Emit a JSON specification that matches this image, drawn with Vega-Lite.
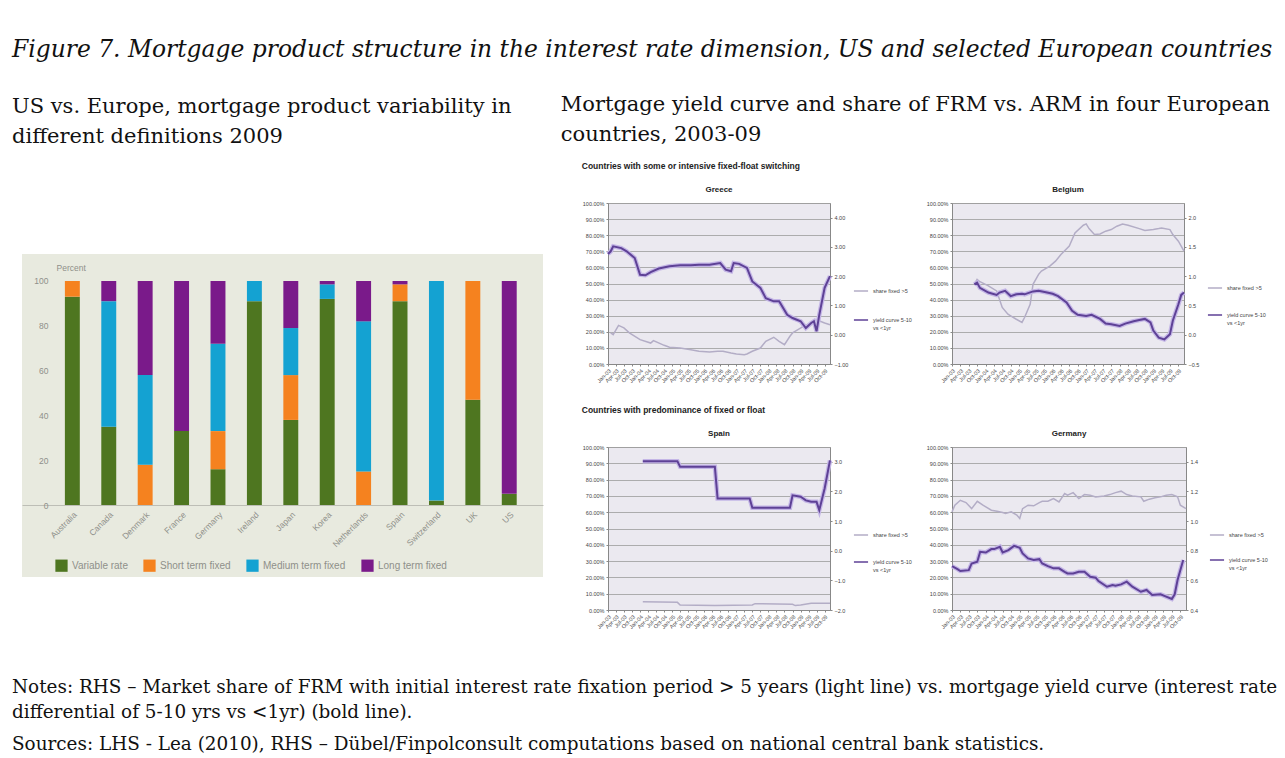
{
  "$schema": "https://vega.github.io/schema/vega-lite/v6.json",
  "background": "white",
  "padding": {"left": 12, "top": 37, "right": 0, "bottom": 0},
  "datasets": {
    "bars": [
      {"country": "Australia", "type": "Variable rate", "value": 93},
      {"country": "Australia", "type": "Short term fixed", "value": 7},
      {"country": "Canada", "type": "Variable rate", "value": 35},
      {"country": "Canada", "type": "Medium term fixed", "value": 56},
      {"country": "Canada", "type": "Long term fixed", "value": 9},
      {"country": "Denmark", "type": "Short term fixed", "value": 18},
      {"country": "Denmark", "type": "Medium term fixed", "value": 40},
      {"country": "Denmark", "type": "Long term fixed", "value": 42},
      {"country": "France", "type": "Variable rate", "value": 33},
      {"country": "France", "type": "Long term fixed", "value": 67},
      {"country": "Germany", "type": "Variable rate", "value": 16},
      {"country": "Germany", "type": "Short term fixed", "value": 17},
      {"country": "Germany", "type": "Medium term fixed", "value": 39},
      {"country": "Germany", "type": "Long term fixed", "value": 28},
      {"country": "Ireland", "type": "Variable rate", "value": 91},
      {"country": "Ireland", "type": "Medium term fixed", "value": 9},
      {"country": "Japan", "type": "Variable rate", "value": 38},
      {"country": "Japan", "type": "Short term fixed", "value": 20},
      {"country": "Japan", "type": "Medium term fixed", "value": 21},
      {"country": "Japan", "type": "Long term fixed", "value": 21},
      {"country": "Korea", "type": "Variable rate", "value": 92},
      {"country": "Korea", "type": "Medium term fixed", "value": 6.5},
      {"country": "Korea", "type": "Long term fixed", "value": 1.5},
      {"country": "Netherlands", "type": "Short term fixed", "value": 15},
      {"country": "Netherlands", "type": "Medium term fixed", "value": 67},
      {"country": "Netherlands", "type": "Long term fixed", "value": 18},
      {"country": "Spain", "type": "Variable rate", "value": 91},
      {"country": "Spain", "type": "Short term fixed", "value": 7.5},
      {"country": "Spain", "type": "Long term fixed", "value": 1.5},
      {"country": "Switzerland", "type": "Variable rate", "value": 2},
      {"country": "Switzerland", "type": "Medium term fixed", "value": 98},
      {"country": "UK", "type": "Variable rate", "value": 47},
      {"country": "UK", "type": "Short term fixed", "value": 53},
      {"country": "US", "type": "Variable rate", "value": 5},
      {"country": "US", "type": "Long term fixed", "value": 95}
    ],
    "lines": [
      {"c": "Greece", "s": "share", "d": "2003-02", "v": 19.3},
      {"c": "Greece", "s": "share", "d": "2003-03", "v": 18.2},
      {"c": "Greece", "s": "share", "d": "2003-05", "v": 24.0},
      {"c": "Greece", "s": "share", "d": "2003-07", "v": 22.4},
      {"c": "Greece", "s": "share", "d": "2003-09", "v": 19.3},
      {"c": "Greece", "s": "share", "d": "2004-01", "v": 15.1},
      {"c": "Greece", "s": "share", "d": "2004-05", "v": 13.0},
      {"c": "Greece", "s": "share", "d": "2004-06", "v": 14.5},
      {"c": "Greece", "s": "share", "d": "2004-10", "v": 11.6},
      {"c": "Greece", "s": "share", "d": "2004-12", "v": 10.4},
      {"c": "Greece", "s": "share", "d": "2005-04", "v": 9.9},
      {"c": "Greece", "s": "share", "d": "2005-08", "v": 8.9},
      {"c": "Greece", "s": "share", "d": "2005-11", "v": 7.9},
      {"c": "Greece", "s": "share", "d": "2006-03", "v": 7.5},
      {"c": "Greece", "s": "share", "d": "2006-06", "v": 7.9},
      {"c": "Greece", "s": "share", "d": "2006-08", "v": 7.9},
      {"c": "Greece", "s": "share", "d": "2006-11", "v": 6.8},
      {"c": "Greece", "s": "share", "d": "2007-01", "v": 6.2},
      {"c": "Greece", "s": "share", "d": "2007-04", "v": 5.8},
      {"c": "Greece", "s": "share", "d": "2007-05", "v": 6.2},
      {"c": "Greece", "s": "share", "d": "2007-07", "v": 7.9},
      {"c": "Greece", "s": "share", "d": "2007-10", "v": 9.9},
      {"c": "Greece", "s": "share", "d": "2007-12", "v": 14.1},
      {"c": "Greece", "s": "share", "d": "2008-03", "v": 16.6},
      {"c": "Greece", "s": "share", "d": "2008-05", "v": 14.1},
      {"c": "Greece", "s": "share", "d": "2008-07", "v": 12.0},
      {"c": "Greece", "s": "share", "d": "2008-09", "v": 17.2},
      {"c": "Greece", "s": "share", "d": "2008-10", "v": 19.3},
      {"c": "Greece", "s": "share", "d": "2008-12", "v": 21.3},
      {"c": "Greece", "s": "share", "d": "2009-02", "v": 23.4},
      {"c": "Greece", "s": "share", "d": "2009-05", "v": 25.5},
      {"c": "Greece", "s": "share", "d": "2009-07", "v": 27.5},
      {"c": "Greece", "s": "share", "d": "2009-10", "v": 25.5},
      {"c": "Greece", "s": "share", "d": "2009-12", "v": 24.4},
      {"c": "Greece", "s": "curve", "d": "2003-01", "v": 2.76},
      {"c": "Greece", "s": "curve", "d": "2003-02", "v": 2.85},
      {"c": "Greece", "s": "curve", "d": "2003-03", "v": 3.02},
      {"c": "Greece", "s": "curve", "d": "2003-06", "v": 2.96},
      {"c": "Greece", "s": "curve", "d": "2003-08", "v": 2.85},
      {"c": "Greece", "s": "curve", "d": "2003-11", "v": 2.62},
      {"c": "Greece", "s": "curve", "d": "2004-01", "v": 2.05},
      {"c": "Greece", "s": "curve", "d": "2004-03", "v": 2.03},
      {"c": "Greece", "s": "curve", "d": "2004-05", "v": 2.14},
      {"c": "Greece", "s": "curve", "d": "2004-08", "v": 2.26},
      {"c": "Greece", "s": "curve", "d": "2004-12", "v": 2.34},
      {"c": "Greece", "s": "curve", "d": "2005-04", "v": 2.37},
      {"c": "Greece", "s": "curve", "d": "2005-08", "v": 2.37},
      {"c": "Greece", "s": "curve", "d": "2005-11", "v": 2.39},
      {"c": "Greece", "s": "curve", "d": "2006-03", "v": 2.39},
      {"c": "Greece", "s": "curve", "d": "2006-07", "v": 2.45},
      {"c": "Greece", "s": "curve", "d": "2006-09", "v": 2.22},
      {"c": "Greece", "s": "curve", "d": "2006-11", "v": 2.17},
      {"c": "Greece", "s": "curve", "d": "2006-12", "v": 2.45},
      {"c": "Greece", "s": "curve", "d": "2007-02", "v": 2.42},
      {"c": "Greece", "s": "curve", "d": "2007-05", "v": 2.28},
      {"c": "Greece", "s": "curve", "d": "2007-07", "v": 1.82},
      {"c": "Greece", "s": "curve", "d": "2007-10", "v": 1.60},
      {"c": "Greece", "s": "curve", "d": "2007-12", "v": 1.25},
      {"c": "Greece", "s": "curve", "d": "2008-03", "v": 1.14},
      {"c": "Greece", "s": "curve", "d": "2008-05", "v": 1.14},
      {"c": "Greece", "s": "curve", "d": "2008-08", "v": 0.68},
      {"c": "Greece", "s": "curve", "d": "2008-10", "v": 0.57},
      {"c": "Greece", "s": "curve", "d": "2009-01", "v": 0.46},
      {"c": "Greece", "s": "curve", "d": "2009-03", "v": 0.23},
      {"c": "Greece", "s": "curve", "d": "2009-05", "v": 0.40},
      {"c": "Greece", "s": "curve", "d": "2009-06", "v": 0.46},
      {"c": "Greece", "s": "curve", "d": "2009-07", "v": 0.12},
      {"c": "Greece", "s": "curve", "d": "2009-08", "v": 0.68},
      {"c": "Greece", "s": "curve", "d": "2009-10", "v": 1.60},
      {"c": "Greece", "s": "curve", "d": "2009-12", "v": 2.00},
      {"c": "Belgium", "s": "share", "d": "2003-09", "v": 49.5},
      {"c": "Belgium", "s": "share", "d": "2003-10", "v": 52.6},
      {"c": "Belgium", "s": "share", "d": "2003-11", "v": 51.1},
      {"c": "Belgium", "s": "share", "d": "2004-02", "v": 48.5},
      {"c": "Belgium", "s": "share", "d": "2004-05", "v": 45.4},
      {"c": "Belgium", "s": "share", "d": "2004-07", "v": 35.1},
      {"c": "Belgium", "s": "share", "d": "2004-09", "v": 30.9},
      {"c": "Belgium", "s": "share", "d": "2004-10", "v": 29.9},
      {"c": "Belgium", "s": "share", "d": "2004-12", "v": 27.8},
      {"c": "Belgium", "s": "share", "d": "2005-02", "v": 25.8},
      {"c": "Belgium", "s": "share", "d": "2005-03", "v": 28.9},
      {"c": "Belgium", "s": "share", "d": "2005-05", "v": 37.1},
      {"c": "Belgium", "s": "share", "d": "2005-06", "v": 49.5},
      {"c": "Belgium", "s": "share", "d": "2005-08", "v": 55.7},
      {"c": "Belgium", "s": "share", "d": "2005-09", "v": 57.7},
      {"c": "Belgium", "s": "share", "d": "2005-12", "v": 60.8},
      {"c": "Belgium", "s": "share", "d": "2006-02", "v": 63.9},
      {"c": "Belgium", "s": "share", "d": "2006-04", "v": 68.0},
      {"c": "Belgium", "s": "share", "d": "2006-07", "v": 73.2},
      {"c": "Belgium", "s": "share", "d": "2006-09", "v": 81.4},
      {"c": "Belgium", "s": "share", "d": "2006-12", "v": 86.2},
      {"c": "Belgium", "s": "share", "d": "2007-01", "v": 87.0},
      {"c": "Belgium", "s": "share", "d": "2007-02", "v": 84.1},
      {"c": "Belgium", "s": "share", "d": "2007-04", "v": 80.4},
      {"c": "Belgium", "s": "share", "d": "2007-06", "v": 80.8},
      {"c": "Belgium", "s": "share", "d": "2007-08", "v": 82.5},
      {"c": "Belgium", "s": "share", "d": "2007-10", "v": 83.5},
      {"c": "Belgium", "s": "share", "d": "2007-12", "v": 85.6},
      {"c": "Belgium", "s": "share", "d": "2008-02", "v": 87.0},
      {"c": "Belgium", "s": "share", "d": "2008-04", "v": 86.2},
      {"c": "Belgium", "s": "share", "d": "2008-08", "v": 84.1},
      {"c": "Belgium", "s": "share", "d": "2008-10", "v": 82.9},
      {"c": "Belgium", "s": "share", "d": "2009-01", "v": 83.5},
      {"c": "Belgium", "s": "share", "d": "2009-03", "v": 84.1},
      {"c": "Belgium", "s": "share", "d": "2009-04", "v": 84.5},
      {"c": "Belgium", "s": "share", "d": "2009-07", "v": 83.5},
      {"c": "Belgium", "s": "share", "d": "2009-08", "v": 80.4},
      {"c": "Belgium", "s": "share", "d": "2009-10", "v": 76.3},
      {"c": "Belgium", "s": "share", "d": "2009-12", "v": 70.1},
      {"c": "Belgium", "s": "curve", "d": "2003-09", "v": 0.86},
      {"c": "Belgium", "s": "curve", "d": "2003-10", "v": 0.89},
      {"c": "Belgium", "s": "curve", "d": "2003-11", "v": 0.80},
      {"c": "Belgium", "s": "curve", "d": "2004-02", "v": 0.72},
      {"c": "Belgium", "s": "curve", "d": "2004-05", "v": 0.68},
      {"c": "Belgium", "s": "curve", "d": "2004-06", "v": 0.72},
      {"c": "Belgium", "s": "curve", "d": "2004-08", "v": 0.75},
      {"c": "Belgium", "s": "curve", "d": "2004-10", "v": 0.66},
      {"c": "Belgium", "s": "curve", "d": "2004-12", "v": 0.69},
      {"c": "Belgium", "s": "curve", "d": "2005-02", "v": 0.70},
      {"c": "Belgium", "s": "curve", "d": "2005-03", "v": 0.69},
      {"c": "Belgium", "s": "curve", "d": "2005-06", "v": 0.74},
      {"c": "Belgium", "s": "curve", "d": "2005-08", "v": 0.75},
      {"c": "Belgium", "s": "curve", "d": "2005-11", "v": 0.72},
      {"c": "Belgium", "s": "curve", "d": "2006-01", "v": 0.70},
      {"c": "Belgium", "s": "curve", "d": "2006-03", "v": 0.66},
      {"c": "Belgium", "s": "curve", "d": "2006-06", "v": 0.55},
      {"c": "Belgium", "s": "curve", "d": "2006-08", "v": 0.41},
      {"c": "Belgium", "s": "curve", "d": "2006-10", "v": 0.34},
      {"c": "Belgium", "s": "curve", "d": "2007-01", "v": 0.32},
      {"c": "Belgium", "s": "curve", "d": "2007-03", "v": 0.34},
      {"c": "Belgium", "s": "curve", "d": "2007-06", "v": 0.27},
      {"c": "Belgium", "s": "curve", "d": "2007-08", "v": 0.19},
      {"c": "Belgium", "s": "curve", "d": "2007-10", "v": 0.18},
      {"c": "Belgium", "s": "curve", "d": "2008-01", "v": 0.15},
      {"c": "Belgium", "s": "curve", "d": "2008-03", "v": 0.19},
      {"c": "Belgium", "s": "curve", "d": "2008-06", "v": 0.23},
      {"c": "Belgium", "s": "curve", "d": "2008-08", "v": 0.25},
      {"c": "Belgium", "s": "curve", "d": "2008-10", "v": 0.27},
      {"c": "Belgium", "s": "curve", "d": "2008-12", "v": 0.21},
      {"c": "Belgium", "s": "curve", "d": "2009-01", "v": 0.07},
      {"c": "Belgium", "s": "curve", "d": "2009-03", "v": -0.05},
      {"c": "Belgium", "s": "curve", "d": "2009-05", "v": -0.08},
      {"c": "Belgium", "s": "curve", "d": "2009-07", "v": 0.01},
      {"c": "Belgium", "s": "curve", "d": "2009-08", "v": 0.24},
      {"c": "Belgium", "s": "curve", "d": "2009-10", "v": 0.52},
      {"c": "Belgium", "s": "curve", "d": "2009-11", "v": 0.68},
      {"c": "Belgium", "s": "curve", "d": "2009-12", "v": 0.72},
      {"c": "Spain", "s": "share", "d": "2004-02", "v": 5.1},
      {"c": "Spain", "s": "share", "d": "2005-03", "v": 4.7},
      {"c": "Spain", "s": "share", "d": "2005-04", "v": 3.1},
      {"c": "Spain", "s": "share", "d": "2006-05", "v": 2.7},
      {"c": "Spain", "s": "share", "d": "2007-07", "v": 3.1},
      {"c": "Spain", "s": "share", "d": "2007-08", "v": 3.9},
      {"c": "Spain", "s": "share", "d": "2008-10", "v": 3.5},
      {"c": "Spain", "s": "share", "d": "2008-11", "v": 2.7},
      {"c": "Spain", "s": "share", "d": "2009-01", "v": 3.1},
      {"c": "Spain", "s": "share", "d": "2009-05", "v": 4.1},
      {"c": "Spain", "s": "share", "d": "2009-12", "v": 4.1},
      {"c": "Spain", "s": "curve", "d": "2004-02", "v": 3.02},
      {"c": "Spain", "s": "curve", "d": "2005-03", "v": 3.02},
      {"c": "Spain", "s": "curve", "d": "2005-04", "v": 2.83},
      {"c": "Spain", "s": "curve", "d": "2006-05", "v": 2.83},
      {"c": "Spain", "s": "curve", "d": "2006-06", "v": 1.76},
      {"c": "Spain", "s": "curve", "d": "2007-06", "v": 1.76},
      {"c": "Spain", "s": "curve", "d": "2007-07", "v": 1.45},
      {"c": "Spain", "s": "curve", "d": "2008-09", "v": 1.45},
      {"c": "Spain", "s": "curve", "d": "2008-10", "v": 1.87},
      {"c": "Spain", "s": "curve", "d": "2009-01", "v": 1.82},
      {"c": "Spain", "s": "curve", "d": "2009-03", "v": 1.70},
      {"c": "Spain", "s": "curve", "d": "2009-05", "v": 1.65},
      {"c": "Spain", "s": "curve", "d": "2009-07", "v": 1.65},
      {"c": "Spain", "s": "curve", "d": "2009-08", "v": 1.37},
      {"c": "Spain", "s": "curve", "d": "2009-10", "v": 2.10},
      {"c": "Spain", "s": "curve", "d": "2009-12", "v": 3.05},
      {"c": "Germany", "s": "share", "d": "2003-01", "v": 60.2},
      {"c": "Germany", "s": "share", "d": "2003-02", "v": 64.3},
      {"c": "Germany", "s": "share", "d": "2003-04", "v": 67.3},
      {"c": "Germany", "s": "share", "d": "2003-06", "v": 65.9},
      {"c": "Germany", "s": "share", "d": "2003-08", "v": 62.2},
      {"c": "Germany", "s": "share", "d": "2003-10", "v": 66.7},
      {"c": "Germany", "s": "share", "d": "2003-12", "v": 64.3},
      {"c": "Germany", "s": "share", "d": "2004-01", "v": 63.3},
      {"c": "Germany", "s": "share", "d": "2004-03", "v": 61.2},
      {"c": "Germany", "s": "share", "d": "2004-05", "v": 60.6},
      {"c": "Germany", "s": "share", "d": "2004-07", "v": 59.8},
      {"c": "Germany", "s": "share", "d": "2004-08", "v": 59.2},
      {"c": "Germany", "s": "share", "d": "2004-10", "v": 60.2},
      {"c": "Germany", "s": "share", "d": "2004-12", "v": 58.2},
      {"c": "Germany", "s": "share", "d": "2005-01", "v": 56.1},
      {"c": "Germany", "s": "share", "d": "2005-02", "v": 62.2},
      {"c": "Germany", "s": "share", "d": "2005-04", "v": 64.3},
      {"c": "Germany", "s": "share", "d": "2005-06", "v": 63.9},
      {"c": "Germany", "s": "share", "d": "2005-08", "v": 65.9},
      {"c": "Germany", "s": "share", "d": "2005-09", "v": 66.7},
      {"c": "Germany", "s": "share", "d": "2005-11", "v": 66.7},
      {"c": "Germany", "s": "share", "d": "2006-01", "v": 68.4},
      {"c": "Germany", "s": "share", "d": "2006-03", "v": 66.3},
      {"c": "Germany", "s": "share", "d": "2006-05", "v": 71.4},
      {"c": "Germany", "s": "share", "d": "2006-06", "v": 70.4},
      {"c": "Germany", "s": "share", "d": "2006-08", "v": 72.0},
      {"c": "Germany", "s": "share", "d": "2006-10", "v": 68.4},
      {"c": "Germany", "s": "share", "d": "2006-12", "v": 70.8},
      {"c": "Germany", "s": "share", "d": "2007-02", "v": 70.4},
      {"c": "Germany", "s": "share", "d": "2007-04", "v": 69.4},
      {"c": "Germany", "s": "share", "d": "2007-07", "v": 70.0},
      {"c": "Germany", "s": "share", "d": "2007-09", "v": 70.8},
      {"c": "Germany", "s": "share", "d": "2007-11", "v": 72.0},
      {"c": "Germany", "s": "share", "d": "2008-01", "v": 72.9},
      {"c": "Germany", "s": "share", "d": "2008-03", "v": 70.8},
      {"c": "Germany", "s": "share", "d": "2008-05", "v": 70.0},
      {"c": "Germany", "s": "share", "d": "2008-08", "v": 69.4},
      {"c": "Germany", "s": "share", "d": "2008-09", "v": 66.7},
      {"c": "Germany", "s": "share", "d": "2008-11", "v": 68.0},
      {"c": "Germany", "s": "share", "d": "2009-01", "v": 68.8},
      {"c": "Germany", "s": "share", "d": "2009-03", "v": 69.4},
      {"c": "Germany", "s": "share", "d": "2009-05", "v": 70.4},
      {"c": "Germany", "s": "share", "d": "2009-07", "v": 70.8},
      {"c": "Germany", "s": "share", "d": "2009-09", "v": 69.4},
      {"c": "Germany", "s": "share", "d": "2009-10", "v": 64.3},
      {"c": "Germany", "s": "share", "d": "2009-12", "v": 62.2},
      {"c": "Germany", "s": "curve", "d": "2003-01", "v": 0.696},
      {"c": "Germany", "s": "curve", "d": "2003-03", "v": 0.676},
      {"c": "Germany", "s": "curve", "d": "2003-04", "v": 0.663},
      {"c": "Germany", "s": "curve", "d": "2003-07", "v": 0.669},
      {"c": "Germany", "s": "curve", "d": "2003-08", "v": 0.714},
      {"c": "Germany", "s": "curve", "d": "2003-10", "v": 0.726},
      {"c": "Germany", "s": "curve", "d": "2003-11", "v": 0.793},
      {"c": "Germany", "s": "curve", "d": "2004-01", "v": 0.788},
      {"c": "Germany", "s": "curve", "d": "2004-03", "v": 0.811},
      {"c": "Germany", "s": "curve", "d": "2004-04", "v": 0.811},
      {"c": "Germany", "s": "curve", "d": "2004-06", "v": 0.827},
      {"c": "Germany", "s": "curve", "d": "2004-07", "v": 0.788},
      {"c": "Germany", "s": "curve", "d": "2004-09", "v": 0.804},
      {"c": "Germany", "s": "curve", "d": "2004-11", "v": 0.833},
      {"c": "Germany", "s": "curve", "d": "2005-01", "v": 0.820},
      {"c": "Germany", "s": "curve", "d": "2005-02", "v": 0.782},
      {"c": "Germany", "s": "curve", "d": "2005-04", "v": 0.748},
      {"c": "Germany", "s": "curve", "d": "2005-06", "v": 0.737},
      {"c": "Germany", "s": "curve", "d": "2005-08", "v": 0.743},
      {"c": "Germany", "s": "curve", "d": "2005-09", "v": 0.714},
      {"c": "Germany", "s": "curve", "d": "2005-11", "v": 0.696},
      {"c": "Germany", "s": "curve", "d": "2006-01", "v": 0.681},
      {"c": "Germany", "s": "curve", "d": "2006-03", "v": 0.681},
      {"c": "Germany", "s": "curve", "d": "2006-05", "v": 0.658},
      {"c": "Germany", "s": "curve", "d": "2006-06", "v": 0.647},
      {"c": "Germany", "s": "curve", "d": "2006-08", "v": 0.647},
      {"c": "Germany", "s": "curve", "d": "2006-10", "v": 0.658},
      {"c": "Germany", "s": "curve", "d": "2006-12", "v": 0.658},
      {"c": "Germany", "s": "curve", "d": "2007-02", "v": 0.624},
      {"c": "Germany", "s": "curve", "d": "2007-04", "v": 0.618},
      {"c": "Germany", "s": "curve", "d": "2007-05", "v": 0.595},
      {"c": "Germany", "s": "curve", "d": "2007-08", "v": 0.557},
      {"c": "Germany", "s": "curve", "d": "2007-10", "v": 0.568},
      {"c": "Germany", "s": "curve", "d": "2007-11", "v": 0.564},
      {"c": "Germany", "s": "curve", "d": "2008-01", "v": 0.573},
      {"c": "Germany", "s": "curve", "d": "2008-03", "v": 0.591},
      {"c": "Germany", "s": "curve", "d": "2008-05", "v": 0.557},
      {"c": "Germany", "s": "curve", "d": "2008-06", "v": 0.546},
      {"c": "Germany", "s": "curve", "d": "2008-08", "v": 0.523},
      {"c": "Germany", "s": "curve", "d": "2008-10", "v": 0.535},
      {"c": "Germany", "s": "curve", "d": "2008-12", "v": 0.501},
      {"c": "Germany", "s": "curve", "d": "2009-03", "v": 0.506},
      {"c": "Germany", "s": "curve", "d": "2009-05", "v": 0.490},
      {"c": "Germany", "s": "curve", "d": "2009-07", "v": 0.474},
      {"c": "Germany", "s": "curve", "d": "2009-08", "v": 0.506},
      {"c": "Germany", "s": "curve", "d": "2009-09", "v": 0.602},
      {"c": "Germany", "s": "curve", "d": "2009-11", "v": 0.737}
    ]
  },
  "title": {
    "text": ["Notes: RHS – Market share of FRM with initial interest rate fixation period > 5 years (light line) vs. mortgage yield curve (interest rate", "differential of 5-10 yrs vs <1yr) (bold line)."],
    "subtitle": "Sources: LHS - Lea (2010), RHS – Dübel/Finpolconsult computations based on national central bank statistics.",
    "orient": "bottom", "anchor": "start", "offset": 48,
    "font": "DejaVu Serif", "fontSize": 18.4, "fontWeight": "normal", "lineHeight": 25, "color": "#111",
    "subtitleFont": "DejaVu Serif", "subtitleFontSize": 18.4, "subtitleColor": "#111", "subtitlePadding": 13
  },
  "vconcat": [
    {
      "title": {
        "text": "Figure 7. Mortgage product structure in the interest rate dimension, US and selected European countries",
        "anchor": "start", "offset": 32,
        "font": "DejaVu Serif", "fontStyle": "italic", "fontSize": 23.4, "fontWeight": "normal", "color": "#111"
      },
      "spacing": 17,
      "resolve": {"scale": {"color": "independent"}, "legend": {"color": "independent"}},
      "hconcat": [
        {
          "title": {
            "text": ["US vs. Europe, mortgage product variability in", "different definitions 2009"],
            "anchor": "start", "dx": -10, "offset": 56,
            "font": "DejaVu Serif", "fontSize": 21, "lineHeight": 30, "fontWeight": "normal", "color": "#111"
          },
          "width": 521,
          "height": 374,
          "layer": [
            {
              "data": {"values": [{}]},
              "mark": {"type": "rect", "color": "#e8eadf"},
              "encoding": {
                "y": {"datum": 112.05, "type": "quantitative", "scale": {"domain": [-32.1, 134.8], "nice": false, "zero": false}},
                "y2": {"datum": -32.1}
              }
            },
            {
              "data": {"name": "bars"},
              "mark": {"type": "bar"},
              "encoding": {
                "x": {
                  "field": "country", "type": "nominal", "sort": null,
                  "scale": {"paddingInner": 0.59, "paddingOuter": 0.95, "align": 0.62},
                  "axis": {
                    "title": null, "offset": -72, "labelAngle": -45, "labelFontSize": 8.5, "labelColor": "#8f908a", "zindex": 2,
                    "ticks": false, "domainColor": "#bdbeb6", "labelPadding": 5, "labelFont": "Liberation Sans",
                    "encode": {"labels": {"update": {
                      "angle": {"signal": "datum.value === 'UK' || datum.value === 'US' ? 0 : -45"},
                      "align": {"signal": "datum.value === 'UK' || datum.value === 'US' ? 'center' : 'right'"},
                      "dy": {"signal": "datum.value === 'UK' || datum.value === 'US' ? 14 : 0"}
                    }}}
                  }
                },
                "y": {
                  "field": "value", "type": "quantitative", "stack": "zero",
                  "axis": {
                    "values": [0, 20, 40, 60, 80, 100], "offset": -31, "domain": false, "ticks": false, "grid": false, "zindex": 2,
                    "labelPadding": 5, "labelFontSize": 8.5, "labelColor": "#8f908a", "labelFont": "Liberation Sans",
                    "title": "Percent", "titleAngle": 0, "titleX": 3, "titleY": 64, "titleAlign": "left", "titleBaseline": "middle",
                    "titleFontSize": 8.5, "titleFontWeight": "normal", "titleColor": "#8f908a", "titleFont": "Liberation Sans"
                  }
                },
                "color": {
                  "field": "type", "type": "nominal",
                  "scale": {"domain": ["Variable rate", "Short term fixed", "Medium term fixed", "Long term fixed"], "range": ["#4e7620", "#f5821f", "#14a2d2", "#7a1a8a"]},
                  "legend": {
                    "orient": "none", "legendX": 33, "legendY": 356, "direction": "horizontal", "title": null,
                    "symbolType": "square", "symbolSize": 150, "symbolStrokeWidth": 0, "symbolOpacity": 1,
                    "labelFontSize": 10, "labelColor": "#8f908a", "labelFont": "Liberation Sans", "columnPadding": 15
                  }
                },
                "order": {"field": "type", "sort": "descending"}
              }
            }
          ]
        },
        {
          "title": {
            "text": ["Mortgage yield curve and share of FRM vs. ARM in four European", "countries, 2003-09"],
            "anchor": "start", "dx": -21, "offset": 17,
            "font": "DejaVu Serif", "fontSize": 21, "lineHeight": 30, "fontWeight": "normal", "color": "#111"
          },
          "spacing": 21,
          "resolve": {"scale": {"color": "independent"}, "legend": {"color": "independent"}},
          "vconcat": [
            {
              "title": {"text": "Countries with some or intensive fixed-float switching", "anchor": "start", "offset": 15, "font": "Liberation Sans", "fontSize": 8.5, "fontWeight": "bold", "color": "#222"},
              "spacing": 12,
              "resolve": {"scale": {"color": "independent"}, "legend": {"color": "independent"}},
              "hconcat": [
                {
                  "title": {"text": "Greece", "font": "Liberation Sans", "fontSize": 8, "fontWeight": "bold", "anchor": "middle", "offset": 7, "color": "#222"},
                  "width": 222, "height": 161,
                  "view": {"fill": "#ebe9f0", "stroke": "#b0b0b0"},
                  "data": {"name": "lines"},
                  "encoding": {"x": {"field": "d", "type": "temporal", "scale": {"domain": [{"year": 2003, "month": 1, "date": 1}, {"year": 2009, "month": 12, "date": 1}]}, "axis": {"title": null, "format": "%b-%y", "labelAngle": -45, "labelFontSize": 5.5, "tickCount": {"interval": "month", "step": 3}, "labelOverlap": false, "labelFlush": false, "labelColor": "#444", "tickSize": 2, "domainColor": "#888", "tickColor": "#888", "grid": false}}},
                  "layer": [
                    {
                      "transform": [{"filter": "datum.c === 'Greece' && datum.s === 'share'"}],
                      "mark": {"type": "line", "strokeWidth": 1.5},
                      "encoding": {
                        "y": {"field": "v", "type": "quantitative", "scale": {"domain": [0, 100]}, "axis": {"title": null, "values": [0, 10, 20, 30, 40, 50, 60, 70, 80, 90, 100], "labelExpr": "format(datum.value, '.2f') + '%'", "labelFontSize": 5.5, "labelColor": "#444", "grid": true, "gridColor": "#9c9c9c", "gridWidth": 0.8, "domainColor": "#888", "tickColor": "#888", "tickSize": 2}},
                        "color": {"datum": "share fixed >5", "type": "nominal", "scale": {"domain": ["share fixed >5", "yield curve 5-10 vs <1yr"], "range": ["#b3adc6", "#5e4196"]}, "legend": {"orient": "none", "legendX": 245, "legendY": 80, "title": null, "symbolType": "stroke", "symbolSize": 200, "symbolStrokeWidth": 1.5, "labelFontSize": 5.5, "labelColor": "#444", "rowPadding": 17, "labelExpr": "datum.label === 'yield curve 5-10 vs <1yr' ? ['yield curve 5-10', 'vs <1yr'] : datum.label"}}
                      }
                    },
                    {
                      "transform": [{"filter": "datum.c === 'Greece' && datum.s === 'curve'"}],
                      "encoding": {"y": {"field": "v", "type": "quantitative", "scale": {"domain": [-1, 4.5], "nice": false, "zero": false}, "axis": {"orient": "right", "title": null, "values": [-1, 0, 1, 2, 3, 4], "format": ".2f", "labelFontSize": 5.5, "labelColor": "#444", "grid": false, "domainColor": "#888", "tickColor": "#888", "tickSize": 2}}},
                      "layer": [
                        {"mark": {"type": "line", "strokeWidth": 4.5, "color": "#c4b6e6"}},
                        {"mark": {"type": "line", "strokeWidth": 2}, "encoding": {"color": {"datum": "yield curve 5-10 vs <1yr", "type": "nominal"}}}
                      ]
                    }
                  ],
                  "resolve": {"scale": {"y": "independent"}}
                },
                {
                  "title": {"text": "Belgium", "font": "Liberation Sans", "fontSize": 8, "fontWeight": "bold", "anchor": "middle", "offset": 7, "color": "#222"},
                  "width": 232, "height": 161,
                  "view": {"fill": "#ebe9f0", "stroke": "#b0b0b0"},
                  "data": {"name": "lines"},
                  "encoding": {"x": {"field": "d", "type": "temporal", "scale": {"domain": [{"year": 2003, "month": 1, "date": 1}, {"year": 2009, "month": 12, "date": 1}]}, "axis": {"title": null, "format": "%b-%y", "labelAngle": -45, "labelFontSize": 5.5, "tickCount": {"interval": "month", "step": 3}, "labelOverlap": false, "labelFlush": false, "labelColor": "#444", "tickSize": 2, "domainColor": "#888", "tickColor": "#888", "grid": false}}},
                  "layer": [
                    {
                      "transform": [{"filter": "datum.c === 'Belgium' && datum.s === 'share'"}],
                      "mark": {"type": "line", "strokeWidth": 1.5},
                      "encoding": {
                        "y": {"field": "v", "type": "quantitative", "scale": {"domain": [0, 100]}, "axis": {"title": null, "values": [0, 10, 20, 30, 40, 50, 60, 70, 80, 90, 100], "labelExpr": "format(datum.value, '.2f') + '%'", "labelFontSize": 5.5, "labelColor": "#444", "grid": true, "gridColor": "#9c9c9c", "gridWidth": 0.8, "domainColor": "#888", "tickColor": "#888", "tickSize": 2}},
                        "color": {"datum": "share fixed >5", "type": "nominal", "scale": {"domain": ["share fixed >5", "yield curve 5-10 vs <1yr"], "range": ["#b3adc6", "#5e4196"]}, "legend": {"orient": "none", "legendX": 255, "legendY": 77, "title": null, "symbolType": "stroke", "symbolSize": 200, "symbolStrokeWidth": 1.5, "labelFontSize": 5.5, "labelColor": "#444", "rowPadding": 15, "labelExpr": "datum.label === 'yield curve 5-10 vs <1yr' ? ['yield curve 5-10', 'vs <1yr'] : datum.label"}}
                      }
                    },
                    {
                      "transform": [{"filter": "datum.c === 'Belgium' && datum.s === 'curve'"}],
                      "encoding": {"y": {"field": "v", "type": "quantitative", "scale": {"domain": [-0.5, 2.25], "nice": false, "zero": false}, "axis": {"orient": "right", "title": null, "values": [-0.5, 0, 0.5, 1, 1.5, 2], "format": ".1f", "labelFontSize": 5.5, "labelColor": "#444", "grid": false, "domainColor": "#888", "tickColor": "#888", "tickSize": 2}}},
                      "layer": [
                        {"mark": {"type": "line", "strokeWidth": 4.5, "color": "#c4b6e6"}},
                        {"mark": {"type": "line", "strokeWidth": 2}, "encoding": {"color": {"datum": "yield curve 5-10 vs <1yr", "type": "nominal"}}}
                      ]
                    }
                  ],
                  "resolve": {"scale": {"y": "independent"}}
                }
              ]
            },
            {
              "title": {"text": "Countries with predominance of fixed or float", "anchor": "start", "offset": 15, "font": "Liberation Sans", "fontSize": 8.5, "fontWeight": "bold", "color": "#222"},
              "spacing": 12,
              "resolve": {"scale": {"color": "independent"}, "legend": {"color": "independent"}},
              "hconcat": [
                {
                  "title": {"text": "Spain", "font": "Liberation Sans", "fontSize": 8, "fontWeight": "bold", "anchor": "middle", "offset": 7, "color": "#222"},
                  "width": 222, "height": 163,
                  "view": {"fill": "#ebe9f0", "stroke": "#b0b0b0"},
                  "data": {"name": "lines"},
                  "encoding": {"x": {"field": "d", "type": "temporal", "scale": {"domain": [{"year": 2003, "month": 1, "date": 1}, {"year": 2009, "month": 12, "date": 1}]}, "axis": {"title": null, "format": "%b-%y", "labelAngle": -45, "labelFontSize": 5.5, "tickCount": {"interval": "month", "step": 3}, "labelOverlap": false, "labelFlush": false, "labelColor": "#444", "tickSize": 2, "domainColor": "#888", "tickColor": "#888", "grid": false}}},
                  "layer": [
                    {
                      "transform": [{"filter": "datum.c === 'Spain' && datum.s === 'share'"}],
                      "mark": {"type": "line", "strokeWidth": 1.5},
                      "encoding": {
                        "y": {"field": "v", "type": "quantitative", "scale": {"domain": [0, 100]}, "axis": {"title": null, "values": [0, 10, 20, 30, 40, 50, 60, 70, 80, 90, 100], "labelExpr": "format(datum.value, '.2f') + '%'", "labelFontSize": 5.5, "labelColor": "#444", "grid": true, "gridColor": "#9c9c9c", "gridWidth": 0.8, "domainColor": "#888", "tickColor": "#888", "tickSize": 2}},
                        "color": {"datum": "share fixed >5", "type": "nominal", "scale": {"domain": ["share fixed >5", "yield curve 5-10 vs <1yr"], "range": ["#b3adc6", "#5e4196"]}, "legend": {"orient": "none", "legendX": 245, "legendY": 80, "title": null, "symbolType": "stroke", "symbolSize": 200, "symbolStrokeWidth": 1.5, "labelFontSize": 5.5, "labelColor": "#444", "rowPadding": 15, "labelExpr": "datum.label === 'yield curve 5-10 vs <1yr' ? ['yield curve 5-10', 'vs <1yr'] : datum.label"}}
                      }
                    },
                    {
                      "transform": [{"filter": "datum.c === 'Spain' && datum.s === 'curve'"}],
                      "encoding": {"y": {"field": "v", "type": "quantitative", "scale": {"domain": [-2, 3.5], "nice": false, "zero": false}, "axis": {"orient": "right", "title": null, "values": [-2, -1, 0, 1, 2, 3], "format": ".1f", "labelFontSize": 5.5, "labelColor": "#444", "grid": false, "domainColor": "#888", "tickColor": "#888", "tickSize": 2}}},
                      "layer": [
                        {"mark": {"type": "line", "strokeWidth": 4.5, "color": "#c4b6e6"}},
                        {"mark": {"type": "line", "strokeWidth": 2}, "encoding": {"color": {"datum": "yield curve 5-10 vs <1yr", "type": "nominal"}}}
                      ]
                    }
                  ],
                  "resolve": {"scale": {"y": "independent"}}
                },
                {
                  "title": {"text": "Germany", "font": "Liberation Sans", "fontSize": 8, "fontWeight": "bold", "anchor": "middle", "offset": 7, "color": "#222"},
                  "width": 234, "height": 163,
                  "view": {"fill": "#ebe9f0", "stroke": "#b0b0b0"},
                  "data": {"name": "lines"},
                  "encoding": {"x": {"field": "d", "type": "temporal", "scale": {"domain": [{"year": 2003, "month": 1, "date": 1}, {"year": 2009, "month": 12, "date": 1}]}, "axis": {"title": null, "format": "%b-%y", "labelAngle": -45, "labelFontSize": 5.5, "tickCount": {"interval": "month", "step": 3}, "labelOverlap": false, "labelFlush": false, "labelColor": "#444", "tickSize": 2, "domainColor": "#888", "tickColor": "#888", "grid": false}}},
                  "layer": [
                    {
                      "transform": [{"filter": "datum.c === 'Germany' && datum.s === 'share'"}],
                      "mark": {"type": "line", "strokeWidth": 1.5},
                      "encoding": {
                        "y": {"field": "v", "type": "quantitative", "scale": {"domain": [0, 100]}, "axis": {"title": null, "values": [0, 10, 20, 30, 40, 50, 60, 70, 80, 90, 100], "labelExpr": "format(datum.value, '.2f') + '%'", "labelFontSize": 5.5, "labelColor": "#444", "grid": true, "gridColor": "#9c9c9c", "gridWidth": 0.8, "domainColor": "#888", "tickColor": "#888", "tickSize": 2}},
                        "color": {"datum": "share fixed >5", "type": "nominal", "scale": {"domain": ["share fixed >5", "yield curve 5-10 vs <1yr"], "range": ["#b3adc6", "#5e4196"]}, "legend": {"orient": "none", "legendX": 257, "legendY": 80, "title": null, "symbolType": "stroke", "symbolSize": 200, "symbolStrokeWidth": 1.5, "labelFontSize": 5.5, "labelColor": "#444", "rowPadding": 13, "labelExpr": "datum.label === 'yield curve 5-10 vs <1yr' ? ['yield curve 5-10', 'vs <1yr'] : datum.label"}}
                      }
                    },
                    {
                      "transform": [{"filter": "datum.c === 'Germany' && datum.s === 'curve'"}],
                      "encoding": {"y": {"field": "v", "type": "quantitative", "scale": {"domain": [0.4, 1.5], "nice": false, "zero": false}, "axis": {"orient": "right", "title": null, "values": [0.4, 0.6, 0.8, 1.0, 1.2, 1.4], "format": ".1f", "labelFontSize": 5.5, "labelColor": "#444", "grid": false, "domainColor": "#888", "tickColor": "#888", "tickSize": 2}}},
                      "layer": [
                        {"mark": {"type": "line", "strokeWidth": 4.5, "color": "#c4b6e6"}},
                        {"mark": {"type": "line", "strokeWidth": 2}, "encoding": {"color": {"datum": "yield curve 5-10 vs <1yr", "type": "nominal"}}}
                      ]
                    }
                  ],
                  "resolve": {"scale": {"y": "independent"}}
                }
              ]
            }
          ]
        }
      ]
    }
  ],
  "config": {
    "view": {"stroke": null},
    "font": "Liberation Sans",
    "axis": {"labelFont": "Liberation Sans"},
    "legend": {"labelFont": "Liberation Sans"}
  }
}
